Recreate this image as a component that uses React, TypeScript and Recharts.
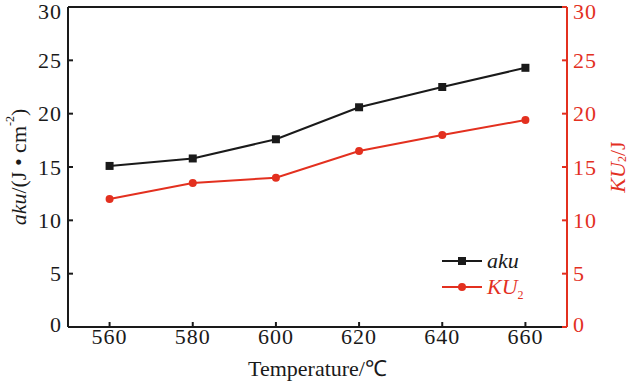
import React from "react";
import { LineChart, Line, XAxis, YAxis, ReferenceLine } from "recharts";

const temperatures = [560, 580, 600, 620, 640, 660];
const akuValues = [15.1, 15.8, 17.6, 20.6, 22.5, 24.3];
const ku2Values = [12.0, 13.5, 14.0, 16.5, 18.0, 19.4];
const tickValues = [0, 5, 10, 15, 20, 25, 30];

const data = temperatures.map((t, i) => ({ t, aku: akuValues[i], ku2: ku2Values[i] }));

const RED = "#e3301f";
const DARK = "#1a1a1a";
const FONT = "'Liberation Serif', 'Times New Roman', serif";

const makeTick = (color: string, anchor: "start" | "middle" | "end", isY: boolean) => (props: any) => {
  const { x, y, payload } = props;
  let dy = 15;
  if (isY) dy = payload.value === 30 ? 10 : payload.value === 0 ? 5 : 7.5;
  return (
    <text x={x} y={y} dy={dy} textAnchor={anchor} fontFamily={FONT} fontSize={22} letterSpacing={1} fill={color}>
      {payload.value}
    </text>
  );
};

const XTick = makeTick(DARK, "middle", false);
const LeftTick = makeTick(DARK, "end", true);
const RightTick = makeTick(RED, "start", true);

const LeftLabel = (props: any) => {
  const vb = props.viewBox || {};
  const cx = vb.x + 18;
  const cy = vb.y + vb.height / 2;
  return (
    <text x={cx} y={cy} transform={`rotate(-90 ${cx} ${cy})`} textAnchor="middle" dominantBaseline="central" fontFamily={FONT} fontSize={22} fill={DARK}>
      <tspan fontStyle="italic">aku</tspan>
      <tspan>/(J • cm</tspan>
      <tspan fontSize={12} dy={-8}>-2</tspan>
      <tspan dy={8}>)</tspan>
    </text>
  );
};

const RightLabel = (props: any) => {
  const vb = props.viewBox || {};
  const cx = vb.x + 50;
  const cy = vb.y + vb.height / 2;
  return (
    <text x={cx} y={cy} transform={`rotate(-90 ${cx} ${cy})`} textAnchor="middle" dominantBaseline="central" fontFamily={FONT} fontSize={22} fill={RED}>
      <tspan fontStyle="italic">KU</tspan>
      <tspan fontSize={12} dy={5}>2</tspan>
      <tspan dy={-5}>/J</tspan>
    </text>
  );
};

const XLabel = (props: any) => {
  const vb = props.viewBox || {};
  const cx = vb.x + vb.width / 2;
  return (
    <text x={cx} y={vb.y + 49} textAnchor="middle" fontFamily={FONT} fontSize={22} fill={DARK}>
      Temperature/℃
    </text>
  );
};

const LegendBox = () => (
  <svg width={110} height={50} style={{ position: "absolute", left: 442, top: 252, overflow: "visible" }}>
    <line x1={0} y1={9} x2={40} y2={9} stroke={DARK} strokeWidth={2} />
    <rect x={16} y={5} width={8} height={8} fill={DARK} />
    <text x={45} y={16} fontFamily={FONT} fontSize={22} fontStyle="italic" fill={DARK}>aku</text>
    <line x1={0} y1={35} x2={40} y2={35} stroke={RED} strokeWidth={2} />
    <circle cx={20} cy={35} r={4} fill={RED} />
    <text x={45} y={42} fontFamily={FONT} fontSize={22} fontStyle="italic" fill={RED}>
      KU<tspan fontSize={12} fontStyle="normal" dy={5}>2</tspan>
    </text>
  </svg>
);

const Square = (props: any) => {
  const { cx, cy } = props;
  if (cx == null || cy == null) return null;
  return <rect x={cx - 4} y={cy - 4} width={8} height={8} fill={DARK} />;
};

export default function App() {
  return (
    <div style={{ position: "absolute", left: 0, top: 0, width: 630, height: 386, background: "#fff" }}>
      <LineChart width={630} height={386} data={data} margin={{ top: 7, right: 0, bottom: 0, left: 0 }}>
        <XAxis
          dataKey="t"
          type="number"
          domain={[550, 670]}
          ticks={temperatures}
          height={59}
          tickSize={-5}
          tickMargin={7}
          stroke={DARK}
          strokeWidth={2}
          tick={<XTick />}
          label={<XLabel />}
        />
        <YAxis
          yAxisId="left"
          orientation="left"
          domain={[0, 30]}
          ticks={tickValues}
          width={68}
          tickSize={-5}
          tickMargin={11}
          stroke={DARK}
          strokeWidth={2}
          tick={<LeftTick />}
          label={<LeftLabel />}
        />
        <YAxis
          yAxisId="right"
          orientation="right"
          domain={[0, 30]}
          ticks={tickValues}
          width={63}
          tickSize={-5}
          tickMargin={11}
          stroke={RED}
          strokeWidth={2}
          tick={<RightTick />}
          label={<RightLabel />}
        />
        <ReferenceLine yAxisId="left" y={30} stroke={DARK} strokeWidth={2} />
        <Line
          yAxisId="left"
          dataKey="aku"
          stroke={DARK}
          strokeWidth={2}
          dot={<Square />}
          isAnimationActive={false}
        />
        <Line
          yAxisId="right"
          dataKey="ku2"
          stroke={RED}
          strokeWidth={2}
          dot={{ r: 4, fill: RED, stroke: RED, strokeWidth: 0 }}
          isAnimationActive={false}
        />
      </LineChart>
      <LegendBox />
    </div>
  );
}
